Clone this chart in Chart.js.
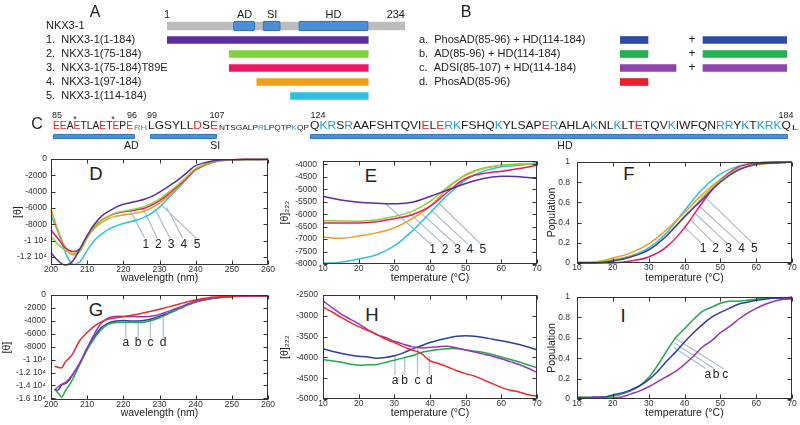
<!DOCTYPE html>
<html>
<head>
<meta charset="utf-8">
<script src="https://cdn.jsdelivr.net/npm/chart.js@4.4.1/dist/chart.umd.min.js"></script>
<style>
  html, body { margin: 0; padding: 0; background: #fff; }
  #page { position: relative; width: 800px; height: 425px; overflow: hidden;
          font-family: "Liberation Sans", Arial, Helvetica, sans-serif; color: #222; }
  .lbl { position: absolute; transform: translate(-50%, -50%); white-space: nowrap; line-height: 1; }
  .seg { position: absolute; white-space: nowrap; line-height: 1; transform-origin: 0 0; }
</style>
</head>
<body>
<div id="page"></div>
<script>
// ---------- panel A : constructs (schematic, not to scale) ----------
const aRows = ['NKX3-1', '1.  NKX3-1(1-184)', '2.  NKX3-1(75-184)', '3.  NKX3-1(75-184)T89E/T93E',
               '4.  NKX3-1(97-184)', '5.  NKX3-1(114-184)'];
const aFull = [1, 234];
const aDomains = ['AD', 'SI', 'HD'];
const aDomStart = [66, 95, 130];
const aDomEnd = [87, 112, 198];
const aConStart = [1, 62, 62, 89, 122];
const aConEnd = [198, 198, 198, 198, 198];
const aConColors = ['#5b2d9e', '#7ed23a', '#ee1565', '#f0a01d', '#2ec0e0'];
const aTopText = ['1', 'AD', 'SI', 'HD', '234'];
const aTopAt = [1, 77, 104, 164, 225];

// ---------- panel B : peptide + HD mixtures ----------
const bRows = ['a.  PhosAD(85-96) + HD(114-184)', 'b.  AD(85-96) + HD(114-184)',
               'c.  ADSI(85-107) + HD(114-184)', 'd.  PhosAD(85-96)'];
const bPepFrom = [85, 85, 85, 85];
const bPepTo = [96, 96, 107, 96];
const bHdFrom = [114, 114, 114, null];
const bHdTo = [184, 184, 184, null];
const bColors = ['#2e4ca6', '#22b14c', '#8e44ad', '#e8202a'];

// ---------- panel C : sequence ----------
const cSegText = ['EEAETLAETEPE', 'RH', 'LGSYLLDSE', 'NTSGALPRLPQTPKQP',
  'QKRSRAAFSHTQVIELERKFSHQKYLSAPERAHLAKNLKLTETQVKIWFQNRRYKTKRKQ', 'L'];
const cSegSmall = [false, true, false, true, false, true];
const cSegFrom = [53, 134, 148, 219, 310, 792];
const cSegTo = [133, 147, 218, 309, 791, 798];
const cNumText = ['85', '96', '99', '107', '124', '184'];
const cNumAt = [57, 132, 152, 217, 318, 786];
const cDomains = ['AD', 'SI', 'HD'];
const cDomFrom = [85, 99, 124];
const cDomTo = [96, 107, 184];
const cDomLabelAt = [95.5, 106.8, 156];

// ---------- panel D : CD spectra, constructs 1-5 ----------
const dWave = [200, 202, 204, 206, 208, 210, 212, 214, 216, 218, 220, 222, 224, 226, 228, 230, 232, 234, 236, 238, 240, 245, 250, 255, 260];
const d1 = [-11500, -12500, -13000, -12500, -11000, -9400, -8000, -7000, -6400, -5900, -5550, -5350, -5150, -4900, -4550, -4050, -3500, -2900, -2250, -1500, -800, -200, -80, -50, -30];
const d2 = [-9500, -10500, -11200, -11600, -11200, -9600, -8300, -7500, -7000, -6600, -6400, -6250, -6050, -5800, -5400, -4900, -4250, -3550, -2800, -1950, -1150, -300, -100, -50, -30];
const d3 = [-8700, -9800, -10900, -11350, -11000, -9500, -8300, -7500, -7000, -6650, -6450, -6350, -6200, -6000, -5600, -5100, -4450, -3700, -2950, -2100, -1250, -300, -80, -30, -60];
const d4 = [-6200, -8800, -10900, -11750, -11300, -9700, -8500, -7800, -7300, -7000, -6850, -6750, -6600, -6350, -5950, -5400, -4700, -3900, -3100, -2200, -1350, -350, -100, -50, -30];
const d5 = [-6900, -9000, -11500, -12900, -12600, -11200, -10000, -9200, -8600, -8200, -7900, -7700, -7450, -7100, -6600, -5900, -5000, -4100, -3200, -2200, -1300, -350, -100, -50, -30];
const dYTicks = [0, -2000, -4000, -6000, -8000, -10000, -12000];
const dYLabels = ['0', '-2000', '-4000', '-6000', '-8000', '-1 10\u2074', '-1.2 10\u2074'];
const dNoteText = ['1', '2', '3', '4', '5'];
const dNoteX = [226.2, 229.7, 233.2, 236.7, 240.4];
const dLeadX = [221.8, 225.5, 228.7, 232.0, 230.5];
const dLeadY = [-6200, -6100, -6100, -5900, -5600];

// ---------- panel E : thermal melt at 222 nm ----------
const eTemp = [10, 15, 20, 25, 30, 35, 40, 45, 50, 55, 60, 65, 70];
const e1 = [-5290, -5430, -5520, -5560, -5580, -5520, -5290, -5030, -4770, -4570, -4480, -4500, -4570];
const e2 = [-6260, -6270, -6280, -6220, -6090, -5890, -5490, -4900, -4440, -4170, -4040, -3990, -3970];
const e3 = [-6350, -6350, -6350, -6300, -6180, -6020, -5690, -5100, -4570, -4370, -4280, -4170, -4040];
const e4 = [-6920, -6970, -6880, -6750, -6550, -6180, -5690, -4960, -4410, -4150, -4040, -4000, -3970];
const e5 = [-7970, -7930, -7800, -7630, -7270, -6680, -5950, -5230, -4630, -4280, -4100, -4040, -3930];
const eYTicks = [-4000, -4500, -5000, -5500, -6000, -6500, -7000, -7500, -8000];
const eNoteX = [40.7, 44.2, 47.7, 51.2, 54.8];
const eLeadX = [27.7, 33.7, 37.4, 40.2, 42.5];
const eLeadY = [-5600, -5890, -5950, -5820, -5560];

// ---------- panel F : population unfolded ----------
const f1 = [0, 0, 0.02, 0.06, 0.13, 0.27, 0.46, 0.63, 0.8, 0.92, 0.98, 0.99, 1];
const f2 = [0.01, 0.01, 0.03, 0.07, 0.13, 0.27, 0.45, 0.65, 0.82, 0.93, 0.98, 0.99, 1];
const f3 = [0, 0, 0, 0.02, 0.06, 0.16, 0.35, 0.6, 0.82, 0.95, 0.99, 1, 1];
const f4 = [0, 0.01, 0.05, 0.1, 0.19, 0.33, 0.5, 0.68, 0.83, 0.93, 0.97, 0.99, 1];
const f5 = [0, 0.005, 0.03, 0.07, 0.15, 0.3, 0.52, 0.73, 0.88, 0.96, 0.99, 1, 1];
const popTicks = [0, 0.2, 0.4, 0.6, 0.8, 1];
const fNoteX = [45.2, 48.7, 52.3, 55.9, 59.5];
const fLeadX = [39.8, 41.6, 43.0, 44.4, 45.8];
const fLeadY = [0.365, 0.43, 0.49, 0.555, 0.65];

// ---------- panel G : CD spectra, mixtures a-d ----------
const gWave = [201, 202, 203, 204, 205, 206, 208, 210, 212, 214, 216, 218, 220, 222, 224, 226, 228, 230, 232, 234, 236, 238, 240, 245, 250, 255, 260];
const gA = [-14700, -14700, -13900, -13700, -13200, -12300, -10500, -8200, -6400, -5000, -4300, -4000, -3950, -4000, -4000, -3900, -3650, -3300, -2900, -2400, -1900, -1400, -1000, -450, -200, -150, -150];
const gB = [-14600, -15200, -15800, -14800, -14000, -13000, -10700, -8500, -6700, -5300, -4500, -4250, -4200, -4200, -4250, -4150, -3900, -3500, -3000, -2500, -2000, -1500, -1100, -500, -250, -150, -150];
const gC = [-14700, -14200, -13800, -13500, -13000, -12300, -10500, -8200, -6000, -4300, -3500, -3300, -3300, -3300, -3350, -3350, -3250, -3000, -2600, -2200, -1800, -1350, -950, -450, -200, -150, -150];
const gD = [-11000, -11200, -11250, -10300, -9800, -9100, -7000, -5800, -4800, -4100, -3700, -3500, -3350, -3150, -2950, -2700, -2450, -2200, -1900, -1600, -1300, -1000, -750, -300, -150, -100, -100];
const gYTicks = [0, -2000, -4000, -6000, -8000, -10000, -12000, -14000, -16000];
const gYLabels = ['0', '-2000', '-4000', '-6000', '-8000', '-1 10\u2074', '-1.2 10\u2074', '-1.4 10\u2074', '-1.6 10\u2074'];
const gNoteText = ['a', 'b', 'c', 'd'];
const gNoteX = [220.7, 224.1, 227.5, 231.0];
const gLeadY = [-4150, -4250, -4000, -3400];

// ---------- panel H : thermal melt, mixtures ----------
const hTemp = [10, 12.5, 15, 17.5, 20, 22.5, 25, 27.5, 30, 32.5, 35, 37.5, 40, 42.5, 45, 47.5, 50, 52.5, 55, 57.5, 60, 62.5, 65, 67.5, 70];
const hA = [-3790, -3850, -3900, -3940, -3970, -3990, -4020, -4000, -3960, -3890, -3800, -3720, -3640, -3580, -3530, -3490, -3480, -3490, -3520, -3560, -3600, -3640, -3690, -3750, -3820];
const hB = [-4050, -4080, -4110, -4160, -4190, -4180, -4170, -4120, -4070, -4010, -3960, -3880, -3840, -3810, -3790, -3790, -3820, -3850, -3880, -3930, -3990, -4050, -4110, -4180, -4250];
const hC = [-2640, -2800, -2950, -3070, -3190, -3330, -3450, -3520, -3610, -3680, -3740, -3770, -3760, -3740, -3730, -3770, -3820, -3870, -3920, -3970, -4030, -4100, -4170, -4260, -4360];
const hD = [-2790, -2900, -3030, -3150, -3260, -3350, -3440, -3560, -3640, -3740, -3820, -3900, -4080, -4150, -4230, -4320, -4390, -4450, -4540, -4630, -4720, -4790, -4830, -4900, -4930];
const hYTicks = [-2500, -3000, -3500, -4000, -4500, -5000];
const hNoteX = [30.2, 32.9, 36.5, 39.8];
const hLeadY = [-3960, -4020, -3730, -3980];

// ---------- panel I : population, mixtures ----------
const iA = [0.02, 0.01, 0.02, 0.02, 0.04, 0.06, 0.09, 0.13, 0.19, 0.27, 0.37, 0.46, 0.56, 0.65, 0.73, 0.8, 0.85, 0.89, 0.93, 0.95, 0.97, 0.98, 0.99, 0.99, 1.0];
const iB = [0.01, 0.02, 0.01, 0.02, 0.03, 0.05, 0.08, 0.13, 0.21, 0.33, 0.47, 0.6, 0.69, 0.78, 0.86, 0.9, 0.94, 0.96, 0.96, 0.97, 0.98, 0.99, 0.99, 0.98, 0.98];
const iC = [0, 0.01, 0.02, 0.01, 0.01, 0.02, 0.05, 0.08, 0.12, 0.17, 0.22, 0.27, 0.34, 0.42, 0.51, 0.57, 0.65, 0.71, 0.78, 0.84, 0.89, 0.93, 0.96, 0.98, 0.99];
const iNoteText = ['a', 'b', 'c'];
const iNoteX = [46.5, 48.8, 51.4];
const iLeadX = [37.0, 37.2, 37.2];
const iLeadY = [0.505, 0.55, 0.60];

const tempTicks = [10, 20, 30, 40, 50, 60, 70];
const waveTicks = [200, 210, 220, 230, 240, 250, 260];

const col5 = ['#5b2d9e', '#8ad23c', '#ec1769', '#f39c1e', '#2ec4dc'];
const colMix = { a: '#2d3fa6', b: '#21a849', c: '#9c33b8', d: '#ee2a2a' };

// ---------------------------------------------------------------
const FONT = '"Liberation Sans", Arial, Helvetica, sans-serif';
Chart.defaults.font.family = FONT;
Chart.defaults.color = '#222';
const page = document.getElementById('page');

function addCanvas(l, t, w, h) {
  const c = document.createElement('canvas');
  c.width = w; c.height = h;
  c.style.cssText = `position:absolute;left:${l}px;top:${t}px;width:${w}px;height:${h}px;`;
  page.appendChild(c);
  return c;
}
function addText(txt, x, y, size) {
  const d = document.createElement('div');
  d.className = 'lbl';
  d.textContent = txt;
  d.style.left = x + 'px';
  d.style.top = y + 'px';
  d.style.fontSize = size + 'px';
  page.appendChild(d);
  return d;
}
const pts = (xs, ys) => xs.map((x, i) => ({ x, y: ys[i] }));
const base = { responsive: false, animation: false, events: [] };
const noLegend = { legend: { display: false }, tooltip: { enabled: false } };
const rowAxis = (w) => ({
  afterFit(s) { s.width = w; },
  grid: { display: false, drawTicks: false }, border: { display: false },
  ticks: { crossAlign: 'far', padding: 0, autoSkip: false, font: { size: 11 }, color: '#222' }
});

// ---------- A ----------
new Chart(addCanvas(0, 0, 410, 110), {
  type: 'bar',
  data: {
    labels: aRows,
    datasets: [
      { data: [aFull, null, null, null, null, null], backgroundColor: '#bdbdbd', barThickness: 8, order: 3 },
      ...aDomains.map((d, i) => ({
        data: [[aDomStart[i], aDomEnd[i]], null, null, null, null, null],
        backgroundColor: '#4b8fd6', borderColor: '#2d6db5', borderWidth: 1, borderRadius: 2,
        borderSkipped: false, barThickness: 10, order: 1
      })),
      { data: [null, ...aConStart.map((s, i) => [s, aConEnd[i]])], backgroundColor: ['#0000', ...aConColors],
        barThickness: 7, order: 1 }
    ]
  },
  options: {
    ...base, indexAxis: 'y',
    datasets: { bar: { grouped: false } },
    layout: { padding: { left: 46, top: 19, right: 5, bottom: 7 } },
    plugins: noLegend,
    scales: {
      x: { type: 'linear', min: 1, max: 234, display: false },
      y: rowAxis(121)
    }
  },
  plugins: [{
    id: 'topText',
    afterDraw(chart) {
      const { ctx, scales: { x } } = chart;
      ctx.save();
      ctx.font = '11px ' + FONT; ctx.fillStyle = '#222';
      ctx.textAlign = 'center'; ctx.textBaseline = 'middle';
      aTopText.forEach((t, i) => ctx.fillText(t, x.getPixelForValue(aTopAt[i]), 15));
      ctx.restore();
    }
  }]
});

// ---------- B ----------
const bK1 = 28 / 11, bK2 = 84 / 70, bW = 167;
new Chart(addCanvas(400, 20, 400, 80), {
  type: 'bar',
  data: {
    labels: bRows,
    datasets: [
      { data: bPepFrom.map((s, i) => [s, bPepTo[i]]), backgroundColor: bColors, barThickness: 7, xAxisID: 'x' },
      { data: bHdFrom.map((s, i) => s === null ? null : [s, bHdTo[i]]), backgroundColor: bColors, barThickness: 7, xAxisID: 'x2' }
    ]
  },
  options: {
    ...base, indexAxis: 'y',
    datasets: { bar: { grouped: false } },
    layout: { padding: { left: 19, top: 13, right: 13, bottom: 11 } },
    plugins: noLegend,
    scales: {
      x: { type: 'linear', min: 85, max: 85 + bW / bK1, display: false },
      x2: { type: 'linear', min: 184 - bW / bK2, max: 184, display: false },
      y: rowAxis(201)
    }
  },
  plugins: [{
    id: 'plus',
    afterDraw(chart) {
      const { ctx, scales: { x2, y } } = chart;
      ctx.save();
      ctx.font = '12px ' + FONT; ctx.fillStyle = '#222';
      ctx.textAlign = 'center'; ctx.textBaseline = 'middle';
      bHdFrom.forEach((s, i) => { if (s !== null) ctx.fillText('+', x2.getPixelForValue(s) - 11, y.getPixelForValue(i)); });
      ctx.restore();
    }
  }]
});

// ---------- C domain bars (one scale per drawn stretch of sequence) ----------
function seqScale(r1, p1, r2, p2) {
  const k = (p2 - p1) / (r2 - r1);
  const min = r1 - p1 / k;
  return { type: 'linear', min, max: min + 800 / k, display: false };
}
const cScaleIds = ['xa', 'xs', 'xh'];
const cScales = {
  xa: seqScale(85, 53, 96, 135),
  xs: seqScale(99, 150, 107, 217),
  xh: seqScale(124, 310, 184, 788),
  y: { display: false }
};
new Chart(addCanvas(0, 128, 800, 28), {
  type: 'bar',
  data: {
    labels: ['seq'],
    datasets: cDomains.map((d, i) => ({
      data: [[cDomFrom[i], cDomTo[i]]], xAxisID: cScaleIds[i],
      backgroundColor: '#4b8fd6', borderColor: '#2f72bd', borderWidth: 1, borderSkipped: false,
      borderRadius: 2, barThickness: 5
    }))
  },
  options: {
    ...base, indexAxis: 'y',
    datasets: { bar: { grouped: false } },
    layout: { padding: { left: 0, right: 0, top: 4, bottom: 15 } },
    plugins: noLegend,
    scales: cScales
  },
  plugins: [{
    id: 'domText',
    afterDraw(chart) {
      const { ctx, scales } = chart;
      ctx.save();
      ctx.font = '10.5px ' + FONT; ctx.fillStyle = '#222';
      ctx.textAlign = 'center'; ctx.textBaseline = 'middle';
      cDomains.forEach((d, i) => ctx.fillText(d, scales[cScaleIds[i]].getPixelForValue(cDomLabelAt[i]), 18));
      ctx.restore();
    }
  }]
});

// ---------- C sequence text ----------
function resColor(ch) {
  if (ch === 'E' || ch === 'D') return '#e8262c';
  if (ch === 'K' || ch === 'R') return '#1f9ed8';
  return '#1a1a1a';
}
cSegText.forEach((txt, si) => {
  const size = cSegSmall[si] ? 7.5 : 11.5;
  const d = document.createElement('div');
  d.className = 'seg';
  d.style.fontSize = size + 'px';
  d.style.left = cSegFrom[si] + 'px';
  d.style.top = (130 - 0.846 * size) + 'px';
  [...txt].forEach(ch => {
    const s = document.createElement('span');
    s.textContent = ch;
    s.style.color = si === 1 ? '#1f9ed8' : resColor(ch);
    d.appendChild(s);
  });
  page.appendChild(d);
  const w = d.getBoundingClientRect().width;
  d.style.transform = `scaleX(${(cSegTo[si] - cSegFrom[si]) / w})`;
});
cNumText.forEach((t, i) => addText(t, cNumAt[i], 115, 9));
addText('*', 75, 119, 9);
addText('*', 113, 119, 9);

// ---------- panel letters ----------
addText('A', 95, 12, 16);
addText('B', 466, 12, 16);
addText('C', 37, 124, 16);
addText('D', 96, 174, 18.5);
addText('E', 371, 176, 18.5);
addText('F', 629, 174, 18.5);
addText('G', 96, 310, 18.5);
addText('H', 372, 315, 18.5);
addText('I', 623, 316, 18.5);

// ---------- line plots ----------
function frame(notes) {
  return {
    id: 'frame',
    beforeDatasetsDraw(chart) {
      if (!notes) return;
      const { ctx, scales: { x, y } } = chart;
      ctx.save();
      ctx.strokeStyle = '#a8bed2'; ctx.lineWidth = 1.2;
      ctx.beginPath();
      notes.text.forEach((s, i) => {
        ctx.moveTo(x.getPixelForValue(notes.x[i] - notes.shift), y.getPixelForValue(notes.fromY));
        ctx.lineTo(x.getPixelForValue(notes.toX[i]), y.getPixelForValue(notes.toY[i]));
      });
      ctx.stroke();
      ctx.restore();
    },
    afterDatasetsDraw(chart) {
      const { ctx, chartArea: a, scales: { x, y } } = chart;
      ctx.save();
      ctx.strokeStyle = '#333'; ctx.lineWidth = 1;
      const L = Math.round(a.left) + 0.5, R = Math.round(a.right) - 0.5;
      const T = Math.round(a.top) + 0.5, B = Math.round(a.bottom) - 0.5;
      ctx.strokeRect(L, T, R - L, B - T);
      ctx.beginPath();
      x.ticks.forEach(t => {
        const p = Math.round(x.getPixelForValue(t.value)) + 0.5;
        ctx.moveTo(p, B); ctx.lineTo(p, B - 4); ctx.moveTo(p, T); ctx.lineTo(p, T + 4);
      });
      y.ticks.forEach(t => {
        const p = Math.round(y.getPixelForValue(t.value)) + 0.5;
        ctx.moveTo(L, p); ctx.lineTo(L + 4, p); ctx.moveTo(R, p); ctx.lineTo(R - 4, p);
      });
      ctx.stroke();
      if (notes) {
        ctx.fillStyle = '#222'; ctx.font = '12px ' + FONT;
        ctx.textAlign = 'center'; ctx.textBaseline = 'middle';
        notes.text.forEach((s, i) => ctx.fillText(s, x.getPixelForValue(notes.x[i]), y.getPixelForValue(notes.y)));
      }
      ctx.restore();
    }
  };
}

function linePlot(cv, area, xCfg, yCfg, series, notes, tension) {
  const tickFont = { size: 8.5 };
  const titleFont = { size: 10.5 };
  new Chart(addCanvas(cv.l, cv.t, cv.r - cv.l, cv.b - cv.t), {
    type: 'line',
    data: {
      datasets: series.map(s => ({
        data: s.data, borderColor: s.color, borderWidth: 1.5, pointRadius: 0,
        tension: tension, fill: false, clip: 3
      }))
    },
    options: {
      ...base,
      layout: { padding: { left: 0, top: area.t - cv.t, right: cv.r - area.r, bottom: 0 } },
      plugins: noLegend,
      scales: {
        x: {
          type: 'linear', min: xCfg.min, max: xCfg.max,
          afterFit(s) { s.height = cv.b - area.b; },
          afterBuildTicks(s) { s.ticks = xCfg.ticks.map(v => ({ value: v })); },
          grid: { display: false, drawTicks: false }, border: { display: false },
          ticks: { padding: 0, font: tickFont, color: '#333', autoSkip: false, maxRotation: 0, callback: v => String(v) },
          title: { display: true, text: xCfg.title, font: titleFont, color: '#222', padding: 0 }
        },
        y: {
          type: 'linear', min: yCfg.min, max: yCfg.max,
          afterFit(s) { s.width = area.l - cv.l; },
          afterBuildTicks(s) { s.ticks = yCfg.ticks.map(v => ({ value: v })); },
          grid: { display: false, drawTicks: false }, border: { display: false },
          ticks: { padding: yCfg.pad, font: tickFont, color: '#333', autoSkip: false,
                   callback: v => yCfg.labels[yCfg.ticks.indexOf(v)] },
          title: { display: true, text: yCfg.title, font: titleFont, color: '#222', padding: 0 }
        }
      }
    },
    plugins: [frame(notes)]
  });
}

const waveX = { min: 200, max: 260, ticks: waveTicks, title: 'wavelength (nm)' };
const tempX = { min: 10, max: 70, ticks: tempTicks, title: 'temperature (\u00B0C)' };
const popY = (pad) => ({ min: 0, max: 1, ticks: popTicks, labels: popTicks.map(String), title: 'Population', pad });

// D
linePlot({ l: 12, t: 150, r: 280, b: 284 }, { l: 51, t: 159, r: 268, b: 265 }, waveX,
  { min: -13000, max: 0, ticks: dYTicks, labels: dYLabels, title: '[\u03B8]', pad: 4 },
  [d1, d2, d3, d4, d5].map((v, i) => ({ data: pts(dWave, v), color: col5[i] })),
  { text: dNoteText, x: dNoteX, y: -10450, fromY: -9700, shift: 0.3, toX: dLeadX, toY: dLeadY }, 0.4);

// E
linePlot({ l: 279, t: 150, r: 549, b: 284 }, { l: 323, t: 159, r: 537, b: 264 }, tempX,
  { min: -8000, max: -3870, ticks: eYTicks, labels: eYTicks.map(String), title: '[\u03B8]\u2082\u2082\u2082', pad: 6 },
  [e1, e2, e3, e4, e5].map((v, i) => ({ data: pts(eTemp, v), color: col5[i] })),
  { text: dNoteText, x: eNoteX, y: -7430, fromY: -7210, shift: 0.5, toX: eLeadX, toY: eLeadY }, 0.4);

// F
linePlot({ l: 546, t: 150, r: 800, b: 284 }, { l: 577, t: 158, r: 792, b: 263 }, tempX, popY(7),
  [f1, f2, f3, f4, f5].map((v, i) => ({ data: pts(eTemp, v), color: col5[i] })),
  { text: dNoteText, x: fNoteX, y: 0.137, fromY: 0.197, shift: 0.5, toX: fLeadX, toY: fLeadY }, 0.4);

// G
linePlot({ l: 1, t: 285, r: 280, b: 419 }, { l: 51, t: 292, r: 268, b: 400 }, waveX,
  { min: -16250, max: 0, ticks: gYTicks, labels: gYLabels, title: '[\u03B8]', pad: 5 },
  [{ data: pts(gWave, gD), color: colMix.d }, { data: pts(gWave, gC), color: colMix.c },
   { data: pts(gWave, gB), color: colMix.b }, { data: pts(gWave, gA), color: colMix.a }],
  { text: gNoteText, x: gNoteX, y: -7400, fromY: -6600, shift: 0, toX: gNoteX, toY: gLeadY }, 0.3);

// H
linePlot({ l: 279, t: 285, r: 549, b: 419 }, { l: 323, t: 292, r: 537, b: 399 }, tempX,
  { min: -5000, max: -2500, ticks: hYTicks, labels: hYTicks.map(String), title: '[\u03B8]\u2082\u2082\u2082', pad: 5 },
  [{ data: pts(hTemp, hD), color: colMix.d }, { data: pts(hTemp, hC), color: colMix.c },
   { data: pts(hTemp, hB), color: colMix.b }, { data: pts(hTemp, hA), color: colMix.a }],
  { text: gNoteText, x: hNoteX, y: -4560, fromY: -4420, shift: 0, toX: hNoteX, toY: hLeadY }, 0.3);

// I
linePlot({ l: 546, t: 285, r: 800, b: 419 }, { l: 577, t: 295, r: 792, b: 399 }, tempX, popY(7),
  [{ data: pts(hTemp, iC), color: colMix.c }, { data: pts(hTemp, iA), color: colMix.a },
   { data: pts(hTemp, iB), color: colMix.b }],
  { text: iNoteText, x: iNoteX, y: 0.24, fromY: 0.30, shift: 0.6, toX: iLeadX, toY: iLeadY }, 0.3);
</script>
</body>
</html>
